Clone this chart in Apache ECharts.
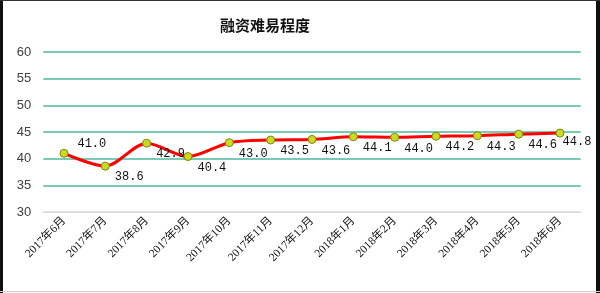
<!DOCTYPE html>
<html><head><meta charset="utf-8">
<script src="https://cdn.jsdelivr.net/npm/echarts@6/dist/echarts.min.js"></script>
<style>
html,body{margin:0;padding:0;background:#fff;}
#wrap{position:relative;width:600px;height:293px;overflow:hidden;}
#c{width:600px;height:293px;}
.b{position:absolute;}
</style></head>
<body>
<div id="wrap">
<div id="c"></div>
<div class="b" style="left:0;top:0;width:3px;height:293px;background:#111"></div>
<div class="b" style="right:0;top:0;width:4px;height:293px;background:#111"></div>
<div class="b" style="left:0;top:0;width:600px;height:1px;background:#333"></div>
<div class="b" style="left:0;bottom:1px;width:600px;height:1px;background:#ccc"></div>
</div>
<script>
const categories = ['2017年6月','2017年7月','2017年8月','2017年9月','2017年10月','2017年11月','2017年12月','2018年1月','2018年2月','2018年3月','2018年4月','2018年5月','2018年6月'];
const values = [41.0, 38.6, 42.9, 40.4, 43.0, 43.5, 43.6, 44.1, 44.0, 44.2, 44.3, 44.6, 44.8];
const yTicks = [30, 35, 40, 45, 50, 55, 60];
const titleText = '融资难易程度';

const chart = echarts.init(document.getElementById('c'), null, {renderer:'canvas'});
const teal = '#4cb89c';
const last = values.length - 1;
chart.setOption({
  animation:false,
  backgroundColor:'#fff',
  title:{text:titleText, left:215, top:13,
    textStyle:{fontFamily:'Noto Sans CJK SC', fontSize:15, fontWeight:'bold', color:'#111'}},
  grid:{left:43.3, right:19.3, top:52, bottom:81, containLabel:false},
  xAxis:{type:'category', data:categories, boundaryGap:true,
    axisLine:{show:true, lineStyle:{color:'#d9d9d9', width:1}},
    axisTick:{show:false},
    axisLabel:{rotate:45, margin:7, fontSize:11.5, color:'#111', fontFamily:'Liberation Serif, Noto Sans CJK SC', interval:0}},
  yAxis:{type:'value', min:yTicks[0], max:yTicks[yTicks.length-1], interval:5,
    axisLine:{show:false}, axisTick:{show:false},
    axisLabel:{fontSize:13, color:'#404040', margin:12, fontFamily:'Liberation Sans'},
    splitLine:{show:true, lineStyle:{color:['#d9d9d9',teal,teal,teal,teal,teal,teal], width:1.5}}},
  series:[{
    type:'line', smooth:0.3,
    data: values.map((v,i)=> i===0 ? {value:v, label:{offset:[4,-10]}} :
                           i===last ? {value:v, label:{offset:[-7,9]}} : v),
    lineStyle:{color:'#ff0000', width:3},
    symbol:'circle', symbolSize:8,
    itemStyle:{color:'#cdd820', borderColor:'#7d8a12', borderWidth:1},
    label:{show:true, position:'right', distance:5, offset:[0,11],
      formatter:p=>p.value.toFixed(1),
      fontFamily:'Liberation Mono', fontSize:12, color:'#111'},
    z:5
  }]
});
</script>
</body></html>
